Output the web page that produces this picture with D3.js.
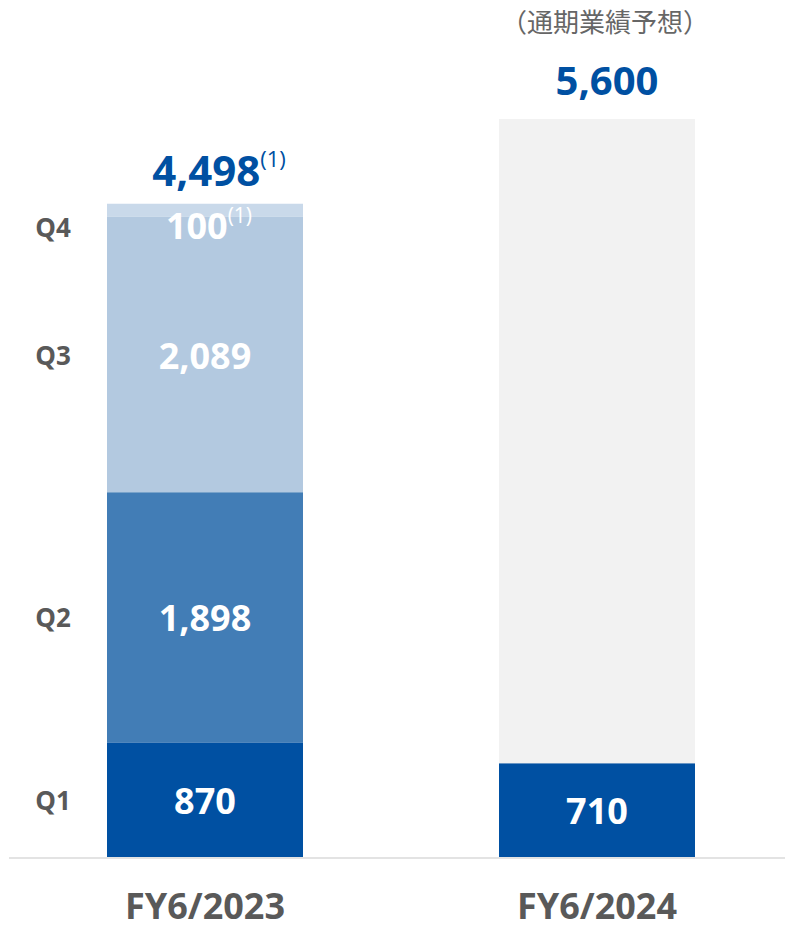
<!DOCTYPE html>
<html>
<head>
<meta charset="utf-8">
<script src="https://cdn.jsdelivr.net/npm/d3@7"></script>
<style>
  html, body { margin: 0; padding: 0; background: #fff; }
  svg { display: block; font-family: "Open Sans", "Noto Sans", sans-serif; }
</style>
</head>
<body>
<svg id="chart" width="785" height="929"></svg>
<script>
// Fiscal years and quarterly figures
const years = ["FY6/2023", "FY6/2024"];
const quarters = ["Q1", "Q2", "Q3", "Q4"];
const fy2023 = [870, 1898, 2089, 100];
const fy2024 = [710];
const forecast2024 = 5600;
const totalLabels = ["4,498", "5,600"];
const forecastNote = "（通期業績予想）";
const quarterColors = ["#0050a2", "#427db6", "#b3c9e0", "#c9d9ea"];

const svg = d3.select("#chart");
const baseY = 857;

const x = d3.scaleBand().domain(years).range([9, 793]).paddingInner(0.5).paddingOuter(0.25);
const y = d3.scaleLinear().domain([0, forecast2024]).range([baseY, 119]);
const fmt = d3.format(",");

function stack(vals) {
  let acc = 0;
  return vals.map((v, i) => { const s = { q: i, v, y0: acc, y1: acc + v }; acc += v; return s; });
}
const s23 = stack(fy2023);
const s24 = stack(fy2024);

// forecast background bar
svg.append("rect")
  .attr("x", x(years[1])).attr("width", x.bandwidth())
  .attr("y", y(forecast2024)).attr("height", y(0) - y(forecast2024))
  .attr("fill", "#f2f2f2");

[[years[0], s23], [years[1], s24]].forEach(([yr, segs]) => {
  svg.append("g").selectAll("rect").data(segs).join("rect")
    .attr("x", x(yr)).attr("width", x.bandwidth())
    .attr("y", d => y(d.y1)).attr("height", d => y(d.y0) - y(d.y1))
    .attr("fill", d => quarterColors[d.q]);
});

// baseline
svg.append("line")
  .attr("x1", 9).attr("x2", 785).attr("y1", baseY + 1).attr("y2", baseY + 1)
  .attr("stroke", "#e3e3e3").attr("stroke-width", 2);

// segment value labels
function segLabel(yr, d, dyOff) {
  const cx = x(yr) + x.bandwidth() / 2;
  return svg.append("text")
    .attr("x", cx)
    .attr("y", (y(d.y0) + y(d.y1)) / 2 + dyOff)
    .attr("text-anchor", "middle")
    .attr("font-size", 36).attr("font-weight", 700)
    .attr("fill", "#fff");
}
s23.slice(0, 3).forEach(d => segLabel(years[0], d, 14).text(fmt(d.v)));
s24.forEach(d => segLabel(years[1], d, 14).text(fmt(d.v)));

// Q4 label with footnote marker, sits just below its thin segment
const q4 = s23[3];
const q4t = svg.append("text")
  .attr("x", x(years[0]) + x.bandwidth() / 2 + 4)
  .attr("y", y(q4.y0) + 22)
  .attr("text-anchor", "middle")
  .attr("font-size", 36).attr("font-weight", 700).attr("fill", "#fff");
q4t.append("tspan").text(fmt(q4.v));
q4t.append("tspan").attr("font-size", 21).attr("font-weight", 400).attr("dy", -16).text("(1)");

// totals above bars
const top23 = s23[s23.length - 1].y1;
const t23 = svg.append("text")
  .attr("x", x(years[0]) + x.bandwidth() / 2 + 14)
  .attr("y", y(top23) - 18)
  .attr("text-anchor", "middle")
  .attr("font-size", 42).attr("font-weight", 700).attr("fill", "#0050a2");
t23.append("tspan").text(totalLabels[0]);
t23.append("tspan").attr("font-size", 22).attr("font-weight", 400).attr("dy", -19).text("(1)");

svg.append("text")
  .attr("x", x(years[1]) + x.bandwidth() / 2 + 10)
  .attr("y", y(forecast2024) - 24)
  .attr("text-anchor", "middle")
  .attr("font-size", 40).attr("font-weight", 700).attr("fill", "#0050a2")
  .text(totalLabels[1]);

svg.append("text")
  .attr("x", x(years[1]) + x.bandwidth() / 2 + 8)
  .attr("y", y(forecast2024) - 87)
  .attr("text-anchor", "middle")
  .attr("font-family", "'Noto Sans CJK JP', sans-serif")
  .attr("font-size", 26).attr("fill", "#666")
  .text(forecastNote);

// quarter labels on the left
const qY = s23.map((d, i) => i < 3 ? (y(d.y0) + y(d.y1)) / 2 + 10 : y(d.y0) + 20);
svg.append("g").selectAll("text").data(quarters).join("text")
  .attr("x", 53).attr("y", (d, i) => qY[i])
  .attr("text-anchor", "middle")
  .attr("font-size", 26).attr("font-weight", 700).attr("fill", "#595959")
  .text(d => d);

// category labels
svg.append("g").selectAll("text").data(years).join("text")
  .attr("x", d => x(d) + x.bandwidth() / 2)
  .attr("y", 919)
  .attr("text-anchor", "middle")
  .attr("font-size", 36).attr("font-weight", 700).attr("fill", "#595959")
  .text(d => d);
</script>
</body>
</html>
